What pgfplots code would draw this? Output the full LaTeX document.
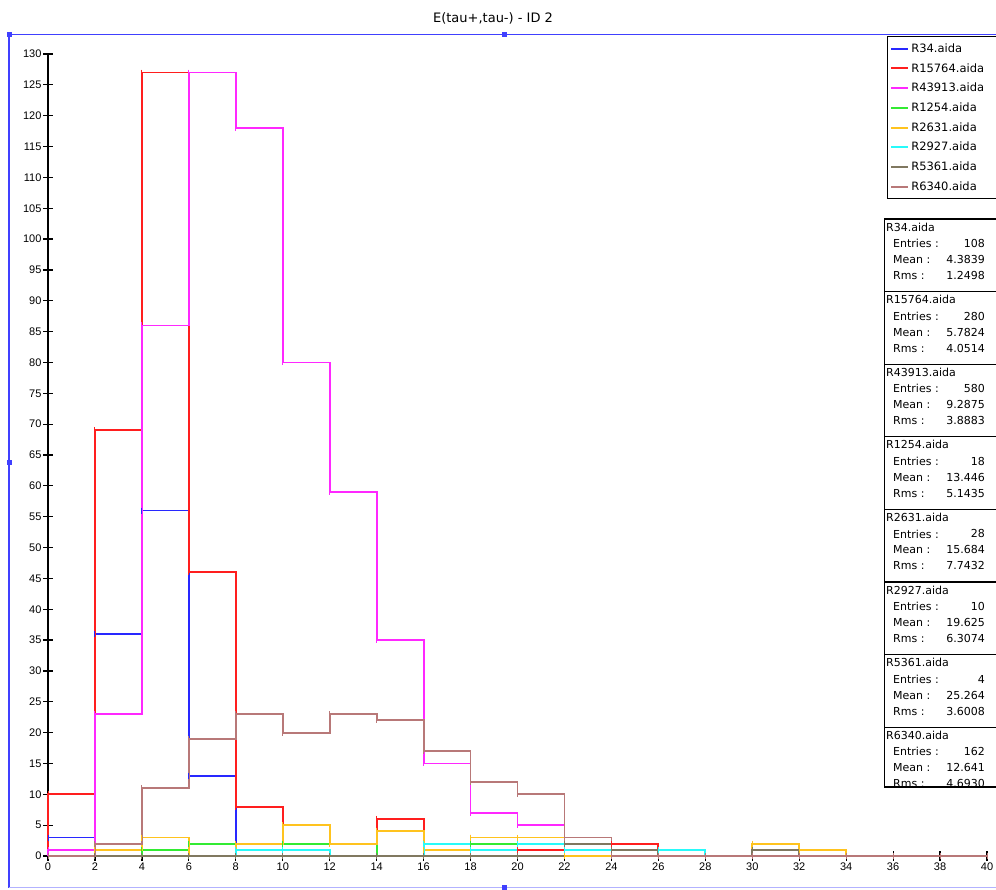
\documentclass[border=0pt]{standalone}
\usepackage{pgfplots}
\pgfplotsset{compat=1.18}
\usepackage{pgfplotstable}
\usepackage{fontspec}
\setmainfont{Liberation Sans}
\newfontfamily\dvs{DejaVu Sans}
\definecolor{cBlue}{RGB}{40,40,255}
\definecolor{cRed}{RGB}{255,30,30}
\definecolor{cMag}{RGB}{255,40,255}
\definecolor{cGreen}{RGB}{50,235,50}
\definecolor{cYel}{RGB}{255,195,30}
\definecolor{cCyan}{RGB}{40,250,250}
\definecolor{cOlive}{RGB}{128,120,96}
\definecolor{cBrown}{RGB}{184,120,120}
\definecolor{cFrame}{RGB}{64,64,255}

\pgfplotstableread{
x  R34 R15764 R43913 R1254 R2631 R2927 R5361 R6340
0  0   0      0      0     0     0     0     0
0  3   10     1      0     0     0     0     0
2  36  69     23     0     1     0     0     2
4  56  127    86     1     3     0     0     11
6  13  46     127    2     0     0     0     19
8  0   8      118    2     2     1     0     23
10 0   2      80     2     5     1     0     20
12 0   2      59     2     2     0     0     23
14 0   6      35     0     4     0     0     22
16 0   2      15     2     1     2     0     17
18 0   3      7      2     3     1     0     12
20 0   1      5      2     3     2     0     10
22 0   2      0      1     0     1     2     3
24 0   2      0      0     0     1     1     0
26 0   0      0      0     0     1     0     0
28 0   0      0      0     0     0     0     0
30 0   0      0      0     2     0     1     0
32 0   0      0      0     1     0     0     0
34 0   0      0      0     0     0     0     0
36 0   0      0      0     0     0     0     0
38 0   0      0      0     0     0     0     0
40 0   0      0      0     0     0     0     0
}\hdata

\newcommand\statbox[5]{%
  \node[anchor=west,inner sep=0pt] at (886,#1+8) {#2};
  \node[anchor=west,inner sep=0pt] at (893,#1+24.5) {Entries :};
  \node[anchor=east,inner sep=0pt] at (985,#1+24.5) {#3};
  \node[anchor=west,inner sep=0pt] at (893,#1+40.5) {Mean :};
  \node[anchor=east,inner sep=0pt] at (985,#1+40.5) {#4};
  \node[anchor=west,inner sep=0pt] at (893,#1+56.5) {Rms :};
  \node[anchor=east,inner sep=0pt] at (985,#1+56.5) {#5};
}

\begin{document}
\begin{tikzpicture}
\begin{scope}[x=1pt,y=-1pt]
  \fill[white] (0,0) rectangle (996,889);
  \node[font=\dvs\fontsize{13}{15}\selectfont] at (493,18) {E(tau+,tau-) - ID 2};
  \draw[cFrame,line width=1.5pt] (9,34.5) -- (1010,34.5);
  \draw[cFrame,line width=1.5pt] (9,34.5) -- (9,887.5);
  \draw[cFrame!40,line width=1.2pt] (9,887.5) -- (1010,887.5);
  \foreach \p in {(9,34.5),(504,34.5),(9,462),(504,887.5)}
    \fill[cFrame] \p ++(-2.5,-2.5) rectangle ++(5,5);
\end{scope}

\begin{axis}[
  at={(48pt,-856pt)}, anchor=south west,
  scale only axis, width=939pt, height=802pt,
  xmin=0, xmax=40, ymin=0, ymax=130,
  clip=false,
  axis x line=bottom, axis y line=left,
  axis line style={-, line width=1.5pt, black},
  xtick={0,2,...,40}, ytick={0,5,...,130},
  tick align=center, major tick length=10pt,
  tick style={black, line width=1.2pt},
  /pgf/number format/assume math mode=true,
  ticklabel style={font=\fontsize{11}{13}\selectfont},
  yticklabel style={xshift=2pt},
  xticklabel style={yshift=2pt},
  every axis plot/.append style={const plot, line width=1.8pt, mark=|, mark size=3pt, mark options={line width=1pt}},
  legend style={at={(rel axis cs:0.8935,1.0224)}, anchor=north west,
    draw=black, line width=1pt, fill=white,
    font=\dvs\fontsize{11.5}{13}\selectfont,
    inner xsep=3pt, inner ysep=5pt, row sep=5.5pt},
  legend cell align=left,
  legend image code/.code={\draw[#1,line width=1.8pt] (0pt,0pt) -- (17pt,0pt);},
]
\addplot[cBlue] table[x=x,y=R34] {\hdata};
\addlegendentry{\makebox[80pt][l]{R34.aida}}
\addplot[cRed] table[x=x,y=R15764] {\hdata};
\addlegendentry{\makebox[80pt][l]{R15764.aida}}
\addplot[cMag] table[x=x,y=R43913] {\hdata};
\addlegendentry{\makebox[80pt][l]{R43913.aida}}
\addplot[cGreen] table[x=x,y=R1254] {\hdata};
\addlegendentry{\makebox[80pt][l]{R1254.aida}}
\addplot[cYel] table[x=x,y=R2631] {\hdata};
\addlegendentry{\makebox[80pt][l]{R2631.aida}}
\addplot[cCyan] table[x=x,y=R2927] {\hdata};
\addlegendentry{\makebox[80pt][l]{R2927.aida}}
\addplot[cOlive] table[x=x,y=R5361] {\hdata};
\addlegendentry{\makebox[80pt][l]{R5361.aida}}
\addplot[cBrown] table[x=x,y=R6340] {\hdata};
\addlegendentry{\makebox[80pt][l]{R6340.aida}}
\end{axis}

\begin{scope}[x=1pt,y=-1pt,font=\dvs\fontsize{11}{13}\selectfont]
  \fill[white] (884.5,219) rectangle (1010,787);
  \statbox{219}{R34.aida}{108}{4.3839}{1.2498}
  \statbox{291.6}{R15764.aida}{280}{5.7824}{4.0514}
  \statbox{364.2}{R43913.aida}{580}{9.2875}{3.8883}
  \statbox{436.8}{R1254.aida}{18}{13.446}{5.1435}
  \statbox{509.4}{R2631.aida}{28}{15.684}{7.7432}
  \statbox{582}{R2927.aida}{10}{19.625}{6.3074}
  \statbox{654.6}{R5361.aida}{4}{25.264}{3.6008}
  \statbox{727.2}{R6340.aida}{162}{12.641}{4.6930}
  \foreach \t in {219,291.6,364.2,436.8,509.4,582,654.6}
    \draw[line width=1.3pt] (884.5,\t) rectangle (1010,\t+72.6);
  \draw[line width=1.3pt] (1010,727.2) -- (884.5,727.2) -- (884.5,787) -- (1010,787);
  \pgfresetboundingbox
  \path[use as bounding box] (0,0) rectangle (996,889);
\end{scope}
\end{tikzpicture}
\end{document}
